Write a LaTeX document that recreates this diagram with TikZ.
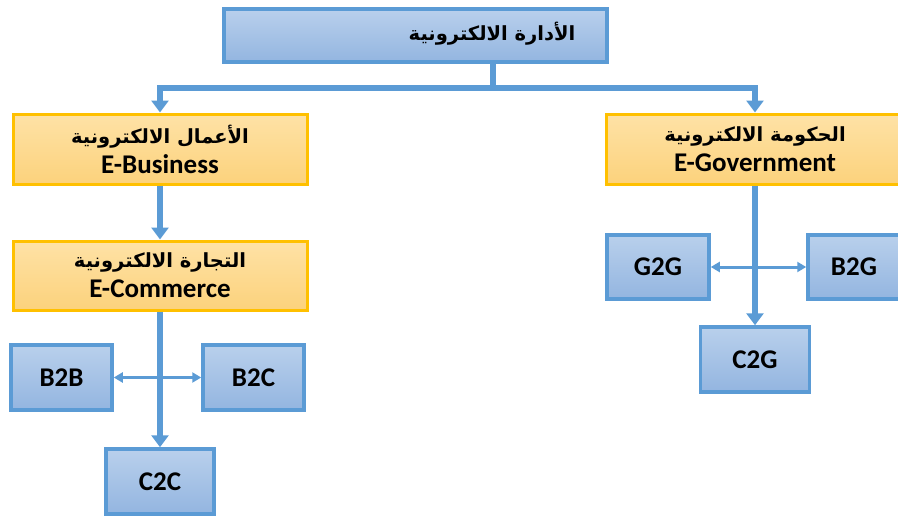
\documentclass[tikz,border=0pt]{standalone}
\usepackage{fontspec}
\setmainfont{Carlito}
\newfontfamily\arabicfont[Script=Arabic]{DejaVu Sans}
\TeXXeTstate=1
\usetikzlibrary{arrows.meta}
\definecolor{bordblue}{HTML}{5B9BD5}
\definecolor{fillbluetop}{HTML}{B9D0EC}
\definecolor{fillbluebot}{HTML}{93B5E0}
\definecolor{bordorange}{HTML}{FFC000}
\definecolor{fillorangetop}{HTML}{FEE2A6}
\definecolor{fillorangebot}{HTML}{FCD27C}
\definecolor{linkblue}{HTML}{5B9BD5}
\newcommand{\artext}[1]{{\arabicfont\bfseries\fontsize{19.5}{30}\selectfont\beginR #1\endR}}
\tikzset{
  bluebox/.style={draw=bordblue, line width=3.5pt, top color=fillbluetop, bottom color=fillbluebot, font=\bfseries\fontsize{27}{30}\selectfont, inner sep=0pt},
  orangebox/.style={draw=bordorange, line width=3pt, top color=fillorangetop, bottom color=fillorangebot, align=center, font=\bfseries\fontsize{27}{30}\selectfont, inner sep=0pt},
  mainlink/.style={draw=linkblue, line width=5.5pt, -{Triangle[width=17pt,length=12pt]}},
  plainlink/.style={draw=linkblue, line width=5.5pt},
  sidelink/.style={draw=linkblue, line width=3pt, {Triangle[width=10pt,length=9pt]}-{Triangle[width=10pt,length=9pt]}},
  label/.style={inner sep=0pt}
}
\begin{document}
\begin{tikzpicture}[x=1pt,y=-1pt]
\useasboundingbox (0,0) rectangle (898,517);
\node[bluebox, minimum width=383pt, minimum height=53pt] (top) at (415.5,35.5) {};
\node[label] (toptext) at (492,34) {\artext{الأدارة الالكترونية}};
\node[orangebox, minimum width=294pt, minimum height=70pt] (eb) at (160,149) {\artext{الأعمال الالكترونية}\\E-Business};
\node[orangebox, minimum width=294pt, minimum height=69pt] (ec) at (160,275.5) {\artext{التجارة الالكترونية}\\E-Commerce};
\node[orangebox, minimum width=298pt, minimum height=70pt] (eg) at (755,149) {\artext{الحكومة الالكترونية}\\E-Government};
\node[bluebox, minimum width=101pt, minimum height=65pt] (b2b) at (61.5,377.5) {B2B};
\node[bluebox, minimum width=101pt, minimum height=65pt] (b2c) at (253.5,377.5) {B2C};
\node[bluebox, minimum width=108pt, minimum height=65pt] (c2c) at (160,481.5) {C2C};
\node[bluebox, minimum width=102pt, minimum height=64pt] (g2g) at (658,267) {G2G};
\node[bluebox, minimum width=92pt, minimum height=64pt] (b2g) at (854,267) {B2G};
\node[bluebox, minimum width=109pt, minimum height=65pt] (c2g) at (755,359.5) {C2G};
% connectors
\coordinate (hub) at (493,88);
\coordinate (topout) at (493,63);
\draw[plainlink] (topout) -- (hub);
\draw[mainlink] (hub) -| (eb.north);
\draw[mainlink] (hub) -| (eg.north);
\draw[mainlink] (eb.south) -- (ec.north);
\draw[mainlink] (ec.south) -- (c2c.north);
\draw[sidelink] (b2b.east) -- (b2c.west);
\draw[mainlink] (eg.south) -- (c2g.north);
\draw[sidelink] (g2g.east) -- (b2g.west);
\end{tikzpicture}
\end{document}
